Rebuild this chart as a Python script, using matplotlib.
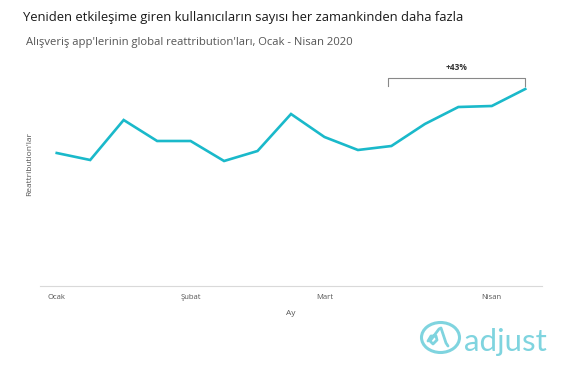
import matplotlib
matplotlib.use("Agg")
import matplotlib.pyplot as plt
from matplotlib.patches import Ellipse
from matplotlib.lines import Line2D

# Data (arbitrary units)
values = [133, 126, 166, 145, 145, 125, 135, 172, 149, 136, 140, 162, 179, 180, 197]
tick_pos = [0, 4, 8, 13]
tick_labels = ["Ocak", "Şubat", "Mart", "Nisan"]
title = "Yeniden etkileşime giren kullanıcıların sayısı her zamankinden daha fazla"
subtitle = "Alışveriş app'lerinin global reattribution'ları, Ocak - Nisan 2020"
growth_label = "+43%"
bracket_start, bracket_end = 10, 14

W, H = 580, 378
plt.rcParams['font.family'] = ['Open Sans', 'DejaVu Sans']
fig = plt.figure(figsize=(W / 100, H / 100), dpi=100)

def fx(px):
    return px / W

def fy(py):
    return 1 - py / H

ax = fig.add_axes([fx(40), fy(286), fx(542) - fx(40), fy(70) - fy(286)])
x = list(range(len(values)))
ax.plot(x, values, color='#1ab9ca', lw=1.9, solid_joinstyle='miter')
ax.set_xlim(-0.5, len(values) - 0.5)
ax.set_ylim(0, 216)
for s in ['top', 'right', 'left']:
    ax.spines[s].set_visible(False)
ax.spines['bottom'].set_color('#d9d9d9')
ax.spines['bottom'].set_linewidth(0.8)
ax.set_yticks([])
ax.set_xticks(tick_pos)
ax.set_xticklabels(tick_labels, fontsize=5.5, color='#555555')
ax.tick_params(axis='x', length=0, pad=6)
ax.set_xlabel("Ay", fontsize=6, color='#555555', labelpad=6)
ax.set_ylabel("Reattribution'lar", fontsize=6, color='#555555')
ax.yaxis.set_label_coords(-0.014, 0.565)

# bracket
by = 208
ax.plot([bracket_start - 0.1, bracket_start - 0.1, bracket_end, bracket_end],
        [by - 8, by, by, by - 8], color='#888888', lw=0.8, clip_on=False)
ax.text((bracket_start - 0.1 + bracket_end) / 2, by + 10, growth_label,
        ha='center', va='center', fontsize=6, fontweight='bold', color='#333333', clip_on=False)

fig.text(fx(23), fy(18), title, fontsize=9.4, color='#1a1a1a', ha='left', va='center')
fig.text(fx(26), fy(42), subtitle, fontsize=8.1, color='#555555', ha='left', va='center')

# adjust logo
logo_c = '#7fd4df'
fig.add_artist(Ellipse((fx(440.5), fy(337.5)), fx(38), 30 / H, fill=False,
                       edgecolor=logo_c, lw=2.2, transform=fig.transFigure))
px = [428, 431, 436, 437, 433, 430, 439, 441, 446, 448]
py = [341, 336, 336, 340, 344, 341, 329, 328, 343, 346]
fig.add_artist(Line2D([fx(p) for p in px], [fy(p) for p in py], color=logo_c, lw=2.0,
                      transform=fig.transFigure, solid_capstyle='round', solid_joinstyle='round'))
fig.text(fx(464), fy(351), "adjust", fontsize=22.5, color=logo_c, ha='left', va='baseline',
         family=['Lato', 'DejaVu Sans'], fontweight='normal')

fig.savefig("out.png", dpi=100)
